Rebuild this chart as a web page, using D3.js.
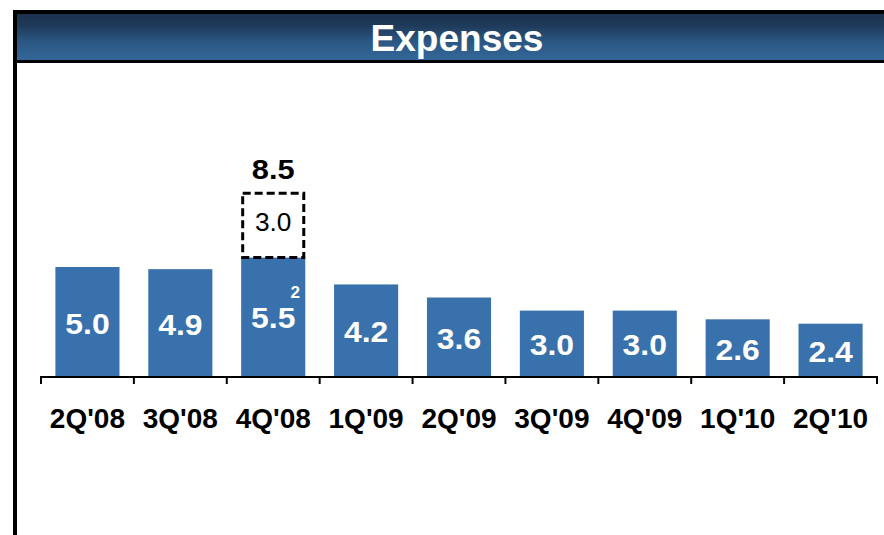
<!DOCTYPE html>
<html>
<head>
<meta charset="utf-8">
<script src="https://cdn.jsdelivr.net/npm/d3@7"></script>
<style>
  body { margin: 0; background: #fff; }
  svg { display: block; font-family: "Liberation Sans", Arial, sans-serif; }
</style>
</head>
<body>
<div id="chart"></div>
<script>
// chart data
var quarters = ["2Q'08", "3Q'08", "4Q'08", "1Q'09", "2Q'09", "3Q'09", "4Q'09", "1Q'10", "2Q'10"];
var expenses = [5.0, 4.9, 5.5, 4.2, 3.6, 3.0, 3.0, 2.6, 2.4];
// extra item stacked on 4Q'08 (dashed box)
var extraQuarter = "4Q'08";
var extraValue = 3.0;
var extraTotal = 8.5;
var footnoteQuarter = "4Q'08";
var footnote = "2";

var width = 884, height = 535;
var svg = d3.select("#chart").append("svg")
  .attr("width", width)
  .attr("height", height);

// header gradient
var defs = svg.append("defs");
var grad = defs.append("linearGradient")
  .attr("id", "hdr")
  .attr("x1", 0).attr("y1", 0).attr("x2", 0).attr("y2", 1);
grad.append("stop").attr("offset", "0%").attr("stop-color", "#1b314c");
grad.append("stop").attr("offset", "25%").attr("stop-color", "#1f3a5a");
grad.append("stop").attr("offset", "60%").attr("stop-color", "#2b5782");
grad.append("stop").attr("offset", "100%").attr("stop-color", "#336799");

// frame: top line, header, header bottom line, left line
svg.append("rect").attr("x", 13).attr("y", 10).attr("width", width - 13).attr("height", 4).attr("fill", "#000");
svg.append("rect").attr("x", 17).attr("y", 14).attr("width", width - 17).attr("height", 46).attr("fill", "url(#hdr)");
svg.append("rect").attr("x", 13).attr("y", 60).attr("width", width - 13).attr("height", 3).attr("fill", "#000");
svg.append("rect").attr("x", 13).attr("y", 10).attr("width", 4).attr("height", height - 10).attr("fill", "#000");

svg.append("text")
  .attr("x", 457)
  .attr("y", 51)
  .attr("text-anchor", "middle")
  .attr("fill", "#fff")
  .attr("font-weight", "bold")
  .attr("font-size", 37)
  .text("Expenses");

// scales
var baseY = 376;
var x = d3.scaleBand()
  .domain(quarters)
  .range([41, 877])
  .paddingInner(0.31)
  .paddingOuter(0.155);
var y = d3.scaleLinear()
  .domain([0, 10])
  .range([baseY, baseY - 218]);

// bars
svg.selectAll("rect.bar")
  .data(expenses)
  .enter()
  .append("rect")
  .attr("class", "bar")
  .attr("x", function (d, i) { return x(quarters[i]); })
  .attr("y", function (d) { return y(d); })
  .attr("width", x.bandwidth())
  .attr("height", function (d) { return baseY - y(d); })
  .attr("fill", "#3871ab");

// value labels inside bars (slightly widened like the original)
svg.selectAll("text.val")
  .data(expenses)
  .enter()
  .append("text")
  .attr("class", "val")
  .attr("transform", function (d, i) {
    var cx = x(quarters[i]) + x.bandwidth() / 2;
    var cy = (y(d) + baseY) / 2 + 12;
    return "translate(" + cx + "," + cy + ") scale(1.1,1)";
  })
  .attr("text-anchor", "middle")
  .attr("fill", "#fff")
  .attr("font-weight", "bold")
  .attr("font-size", 29)
  .text(function (d) { return d.toFixed(1); });

// footnote marker
svg.append("text")
  .attr("x", x(footnoteQuarter) + x.bandwidth() - 10)
  .attr("y", 298)
  .attr("text-anchor", "middle")
  .attr("fill", "#fff")
  .attr("font-weight", "bold")
  .attr("font-size", 17)
  .text(footnote);

// dashed extra box
var ei = quarters.indexOf(extraQuarter);
var boxTop = y(expenses[ei] + extraValue);
var boxBot = y(expenses[ei]);
svg.append("rect")
  .attr("x", x(extraQuarter) + 1.5)
  .attr("y", boxTop + 2.5)
  .attr("width", x.bandwidth() - 3)
  .attr("height", boxBot - boxTop - 1)
  .attr("fill", "#fff")
  .attr("stroke", "#000")
  .attr("stroke-width", 3)
  .attr("stroke-dasharray", "8,4");
svg.append("text")
  .attr("transform", "translate(" + (x(extraQuarter) + x.bandwidth() / 2) + "," + ((boxTop + boxBot) / 2 + 8) + ") scale(1.05,1)")
  .attr("text-anchor", "middle")
  .attr("fill", "#000")
  .attr("font-size", 25)
  .text(extraValue.toFixed(1));
svg.append("text")
  .attr("transform", "translate(" + (x(extraQuarter) + x.bandwidth() / 2) + "," + (boxTop - 12) + ") scale(1.1,1)")
  .attr("text-anchor", "middle")
  .attr("fill", "#000")
  .attr("font-weight", "bold")
  .attr("font-size", 28)
  .text(extraTotal.toFixed(1));

// axis with boundary ticks
var edges = quarters.map(function (q) { return x(q) - x.step() * x.paddingInner() / 2; });
edges.push(877);
svg.append("line")
  .attr("x1", 41).attr("x2", 877)
  .attr("y1", baseY + 1).attr("y2", baseY + 1)
  .attr("stroke", "#000").attr("stroke-width", 2);
svg.selectAll("line.tick")
  .data(edges)
  .enter()
  .append("line")
  .attr("class", "tick")
  .attr("x1", function (d) { return d; })
  .attr("x2", function (d) { return d; })
  .attr("y1", baseY)
  .attr("y2", baseY + 8)
  .attr("stroke", "#000").attr("stroke-width", 2);

svg.selectAll("text.cat")
  .data(quarters)
  .enter()
  .append("text")
  .attr("class", "cat")
  .attr("x", function (d) { return x(d) + x.bandwidth() / 2; })
  .attr("y", 428)
  .attr("text-anchor", "middle")
  .attr("fill", "#000")
  .attr("font-weight", "bold")
  .attr("font-size", 28)
  .text(function (d) { return d; });
</script>
</body>
</html>
